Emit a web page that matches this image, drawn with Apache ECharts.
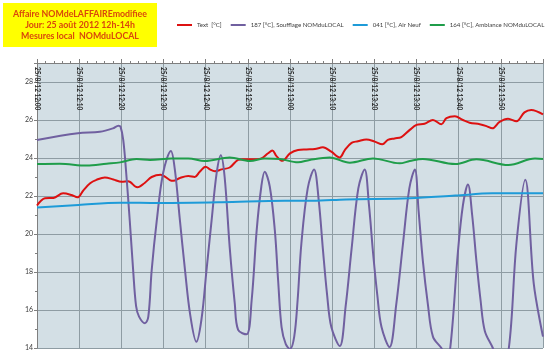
<!DOCTYPE html>
<html>
<head>
<meta charset="utf-8">
<script src="https://cdn.jsdelivr.net/npm/echarts@6/dist/echarts.min.js"></script>
<style>html,body{margin:0;padding:0;background:#fff}#c{width:550px;height:356px}</style>
</head>
<body>
<div id="c"></div>
<script>
// ---- data (minutes after 12:00) ----
const titleLines = ['Affaire NOMdeLAFFAIREmodifiee', 'Jour: 25 août 2012 12h-14h', 'Mesures local  NOMduLOCAL'];
const seriesNames = ['Text  [°C]', '187 [°C], Soufflage NOMduLOCAL', '041 [°C], Air Neuf', '164 [°C], Ambiance NOMduLOCAL'];
const xTickLabels = ['25/8/12 12:00','25/8/12 12:10','25/8/12 12:20','25/8/12 12:30','25/8/12 12:40','25/8/12 12:50',
                     '25/8/12 13:00','25/8/12 13:10','25/8/12 13:20','25/8/12 13:30','25/8/12 13:40','25/8/12 13:50'];
const yTickLabels = ['14','16','18','20','22','24','26','28'];

const textMinutes = [0,1.9,3.9,6.2,8.2,9.6,11,12.6,14.1,16.1,18.1,20.1,21.6,23.8,25.6,27.2,29.3,31.5,32.3,33.9,35.9,37.4,38.6,40,41,42.2,43.8,45.7,47.7,48.9,50.9,53.2,54.8,55.8,56.8,58.2,60,61.9,63.9,65.9,67.8,69.8,71.8,73,74.6,76.1,78.1,80.1,81.9,83.2,84.8,86.4,88.4,90,91.9,93.9,95.9,97.1,99.1,101,102.6,105,106.6,108,109.7,111.7,113.7,115.6,117.2,120];
const textValues  = [21.5,21.88,21.9,22.14,22.05,21.93,22.3,22.67,22.85,22.98,22.87,22.75,22.77,22.46,22.7,23.0,23.12,22.84,22.8,22.95,23.05,23.0,23.28,23.54,23.4,23.3,23.4,23.5,23.9,23.93,23.93,23.98,24.25,24.4,24.1,23.85,24.24,24.42,24.45,24.47,24.56,24.33,24.03,24.42,24.8,24.88,24.98,24.86,24.72,24.95,25.03,25.1,25.48,25.74,25.8,26.0,25.77,26.1,26.2,26.0,25.86,25.78,25.68,25.56,25.9,26.07,25.93,26.4,26.53,26.3];

const soufflageMinutes = [0,9.7,14.9,18.0,19.3,19.8,20.45,21.1,22.0,22.8,23.5,24.2,25.6,26.4,27.2,28.4,29.9,31.75,32.7,33.9,35.1,36.3,37.8,39.0,40.2,41.4,42.6,43.6,44.5,45.7,46.9,47.7,49.7,50.9,52.1,53.2,54.0,55.2,56.4,57.2,58,59,60,61,61.8,62.7,64.2,65.7,66.8,67.8,68.8,69.8,71.8,73.2,74.6,76.2,77.7,78.7,79.7,80.7,81.7,83.6,85.2,86.8,88.3,89.6,90.5,91.5,92.7,93.9,95.9,97,98,99.8,101,102.2,103.2,104.2,105.2,106.2,108.1,110,111.9,113.7,115.8,117.8,120];
const soufflageValues  = [24.95,25.3,25.38,25.56,25.7,25.65,24.95,23.37,20.7,18.1,16.2,15.65,15.3,15.65,18.1,20.7,23.2,24.37,23.37,20.7,18.1,15.8,14.33,15.5,18.1,20.7,23.2,24.15,23.0,19.3,16.35,14.95,14.72,16.5,20.2,22.5,23.28,22.5,20.2,17.5,15.1,14.2,13.95,14.6,16.5,19.5,22.4,23.4,21.8,19.2,16.8,15.1,14.1,16.2,19.2,22.4,23.4,21.6,19.0,16.8,15.1,14.05,16.3,19.5,22.4,23.4,21.2,18.6,16.3,14.6,14.0,13.6,14.0,19.0,21.5,22.6,21.0,18.6,16.5,14.9,14.0,12.9,14.0,19.5,22.85,17.4,14.6];

const airNeufMinutes = [0,9.8,19.7,29,43.8,58.8,65.3,73.3,88.4,99.2,108,120];
const airNeufValues  = [21.4,21.53,21.65,21.63,21.67,21.75,21.75,21.82,21.88,22.02,22.14,22.14];

const ambianceMinutes = [0,5.4,11.8,16.5,19.7,23.6,26.8,31.9,35.9,39.8,45.7,50.5,54,57.6,61.9,64.7,69.4,74.2,79.7,86,88.4,91.5,99.2,104.2,111.8,118.1,120];
const ambianceValues  = [23.68,23.7,23.6,23.7,23.77,23.95,23.9,23.98,23.98,23.84,24.02,23.84,23.98,23.95,23.77,23.9,24.02,23.75,23.98,23.72,23.84,23.95,23.68,23.93,23.63,23.97,23.95];

const zip = (xs, ys) => xs.map((x, i) => [x, ys[i]]);
const colors = ['#dd1111', '#7060a0', '#1e9bd8', '#1f9d4a'];

const chart = echarts.init(document.getElementById('c'), null, {renderer: 'canvas'});
const mk = (i, data) => ({
  name: seriesNames[i], type: 'line', data: data, showSymbol: false, smooth: 0.35,
  lineStyle: {width: 2, color: colors[i]}, itemStyle: {color: colors[i]}, clip: true
});
chart.setOption({
  animation: false,
  color: colors,
  graphic: [
    {type: 'rect', shape: {x: 3, y: 3, width: 154, height: 44}, style: {fill: '#ffff00'}, z: 10},
    {type: 'text', x: 80, y: 9, z: 11, style: {text: titleLines.join('\n'), fill: '#d9460c',
      font: 'bold 8.8px Lato, "Liberation Sans", sans-serif', align: 'center', verticalAlign: 'top', lineHeight: 11}}
  ],
  legend: {
    left: 177, top: 22, width: 400, padding: 0, itemGap: 9, itemWidth: 15, itemHeight: 2, icon: 'rect',
    textStyle: {fontSize: 6.1, color: '#404040', fontFamily: 'Lato, sans-serif'},
    data: seriesNames
  },
  grid: {left: 37, top: 63, width: 506, height: 285, show: true, backgroundColor: '#d3dfe5', borderWidth: 0},
  xAxis: {
    type: 'value', position: 'top', min: 0, max: 120, interval: 10,
    axisLine: {show: true, lineStyle: {color: '#7f7f7f', width: 1}},
    axisTick: {show: true, length: 4, lineStyle: {color: '#7f7f7f'}},
    minorTick: {show: true, splitNumber: 5, length: 2, lineStyle: {color: '#7f7f7f'}},
    splitLine: {show: true, lineStyle: {color: '#8e9ca3', width: 1}},
    axisLabel: {inside: true, rotate: 90, margin: 4, fontSize: 6.5, fontWeight: 'bold', color: '#262626',
      fontFamily: 'Lato, sans-serif',
      formatter: v => xTickLabels[Math.round(v / 10)] || ''}
  },
  yAxis: {
    type: 'value', min: 14, max: 29, interval: 2,
    axisLine: {show: true, lineStyle: {color: '#7f7f7f', width: 1}},
    axisTick: {show: true, length: 3, lineStyle: {color: '#7f7f7f'}},
    minorTick: {show: true, splitNumber: 2, length: 2, lineStyle: {color: '#7f7f7f'}},
    splitLine: {show: true, lineStyle: {color: '#8e9ca3', width: 1}},
    axisLabel: {fontSize: 7, color: '#404040', margin: 4, fontFamily: 'Lato, sans-serif',
      formatter: v => (v <= 28 ? (yTickLabels[Math.round((v - 14) / 2)] || '') : '')}
  },
  series: [
    mk(0, zip(textMinutes, textValues)),
    mk(1, zip(soufflageMinutes, soufflageValues)),
    mk(2, zip(airNeufMinutes, airNeufValues)),
    mk(3, zip(ambianceMinutes, ambianceValues))
  ]
});
</script>
</body>
</html>
